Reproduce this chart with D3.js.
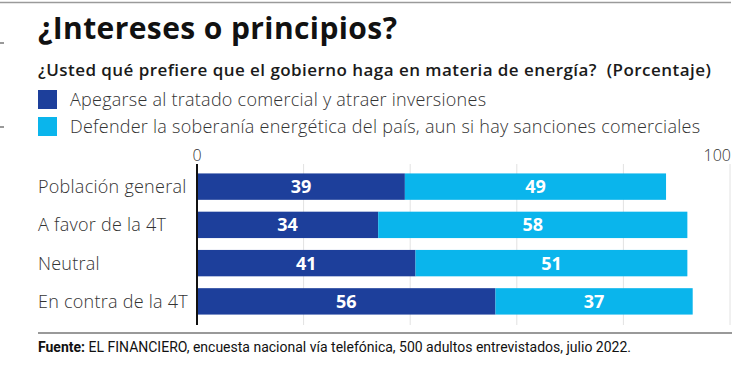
<!DOCTYPE html>
<html>
<head>
<meta charset="utf-8">
<script src="https://cdn.jsdelivr.net/npm/d3@7"></script>
<style>
  body { margin: 0; background: #fff; }
  svg { display: block; }
</style>
</head>
<body>
<svg id="drawing_region"></svg>
<script>
const categories = ["Población general", "A favor de la 4T", "Neutral", "En contra de la 4T"];
const apegarse = [39, 34, 41, 56];
const defender = [49, 58, 51, 37];
const seriesNames = [
    "Apegarse al tratado comercial y atraer inversiones",
    "Defender la soberanía energética del país, aun si hay sanciones comerciales"
];
const gridTicks = [0, 20, 40, 60, 80, 100];
const labelTicks = [0, 100];

const title = "¿Intereses o principios?";
const subtitle = "¿Usted qué prefiere que el gobierno haga en materia de energía?\u00a0 (Porcentaje)";
const sourceBold = "Fuente:";
const sourceText = " EL FINANCIERO, encuesta nacional vía telefónica, 500 adultos entrevistados, julio 2022.";

class StackedBar {

    constructor( config ) {
        this.config = config;
        this.data = categories.map( (c, i) => ({ cat: c, a: apegarse[i], d: defender[i] }) );
        this.init();
    }

    init() {
        let self = this;
        self.svg = d3.select( self.config.parent )
            .attr('width', self.config.width)
            .attr('height', self.config.height)
            .style('font-family', "'Open Sans', sans-serif");

        self.xscale = d3.scaleLinear()
            .domain([0, 100])
            .range([197, 730]);

        self.yscale = d3.scaleBand()
            .domain(categories)
            .range([167.5, 320.5])
            .paddingInner(0.31)
            .paddingOuter(0.155);

        self.colors = d3.scaleOrdinal()
            .domain(['a', 'd'])
            .range(['#1d3f9b', '#0ab5ec']);
    }

    render() {
        let self = this;
        const svg = self.svg;

        // top rule and scan marks
        svg.append('line').attr('x1', 0).attr('x2', 731).attr('y1', 2.5).attr('y2', 2.5)
            .attr('stroke', '#9a9a9a').attr('stroke-width', 1.5);
        [43, 127].forEach( y => {
            svg.append('line').attr('x1', 0).attr('x2', 4).attr('y1', y).attr('y2', y)
                .attr('stroke', '#555').attr('stroke-width', 1.2);
        });

        svg.append('text')
            .attr('x', 38).attr('y', 39)
            .attr('font-size', 30).attr('font-weight', 700)
            .attr('letter-spacing', 0.4)
            .attr('fill', '#111')
            .text(title);

        svg.append('text')
            .attr('x', 38).attr('y', 76)
            .attr('font-size', 17).attr('font-weight', 600)
            .attr('letter-spacing', 0.45)
            .attr('fill', '#1a1a1a')
            .text(subtitle);

        // legend
        const legend = svg.append('g');
        ['a', 'd'].forEach( (k, i) => {
            const y = 90 + i * 27;
            legend.append('rect')
                .attr('x', 38).attr('y', y).attr('width', 19).attr('height', 19)
                .attr('fill', self.colors(k));
            legend.append('text')
                .attr('x', 70).attr('y', y + 15.5)
                .attr('font-size', 18).attr('font-weight', 300)
                .attr('letter-spacing', 0.25)
                .attr('fill', '#333')
                .text(seriesNames[i]);
        });

        // grid
        svg.append('g').selectAll('line')
            .data(gridTicks.slice(1))
            .join('line')
            .attr('x1', d => self.xscale(d)).attr('x2', d => self.xscale(d))
            .attr('y1', 164).attr('y2', 325)
            .attr('stroke', '#e2e2e2').attr('stroke-width', 1);

        svg.append('g').selectAll('text')
            .data(labelTicks)
            .join('text')
            .attr('x', d => self.xscale(d) + (d === 100 ? 1 : 0))
            .attr('y', 161)
            .attr('text-anchor', d => d === 100 ? 'end' : 'middle')
            .attr('font-size', 16).attr('font-weight', 300)
            .attr('fill', '#333')
            .text(d => d);

        // bars
        const stack = d3.stack().keys(['a', 'd'])( self.data );
        const groups = svg.append('g').selectAll('g')
            .data(stack)
            .join('g')
            .attr('fill', s => self.colors(s.key));

        groups.selectAll('rect')
            .data(s => s)
            .join('rect')
            .attr('x', d => self.xscale(d[0]))
            .attr('y', d => self.yscale(d.data.cat))
            .attr('width', d => self.xscale(d[1]) - self.xscale(d[0]))
            .attr('height', self.yscale.bandwidth());

        groups.selectAll('text')
            .data(s => s.map(d => ({ v: d[1] - d[0], d0: d[0], d1: d[1], cat: d.data.cat })))
            .join('text')
            .attr('x', d => (self.xscale(d.d0) + self.xscale(d.d1)) / 2)
            .attr('y', d => self.yscale(d.cat) + self.yscale.bandwidth() / 2)
            .attr('dy', '0.36em')
            .attr('text-anchor', 'middle')
            .attr('font-size', 18).attr('font-weight', 700)
            .attr('fill', '#fff')
            .text(d => d.v);

        // category labels
        svg.append('g').selectAll('text')
            .data(categories)
            .join('text')
            .attr('x', 38)
            .attr('y', d => self.yscale(d) + self.yscale.bandwidth() / 2)
            .attr('dy', '0.36em')
            .attr('font-size', 18).attr('font-weight', 300)
            .attr('letter-spacing', 0.25)
            .attr('fill', '#333')
            .text(d => d);

        // zero axis
        svg.append('line')
            .attr('x1', self.xscale(0)).attr('x2', self.xscale(0))
            .attr('y1', 164).attr('y2', 325)
            .attr('stroke', '#111').attr('stroke-width', 2);

        // footer
        svg.append('line').attr('x1', 38).attr('x2', 732).attr('y1', 333).attr('y2', 333)
            .attr('stroke', '#777').attr('stroke-width', 1.5);

        const src = svg.append('text')
            .attr('x', 38).attr('y', 352)
            .attr('font-family', 'Roboto, sans-serif')
            .attr('font-size', 14)
            .attr('fill', '#111');
        src.append('tspan').attr('font-weight', 700).text(sourceBold);
        src.append('tspan').attr('font-weight', 400).text(sourceText);
    }
}

const config = { parent: '#drawing_region', width: 750, height: 377 };
const chart = new StackedBar( config );
chart.render();
</script>
</body>
</html>
